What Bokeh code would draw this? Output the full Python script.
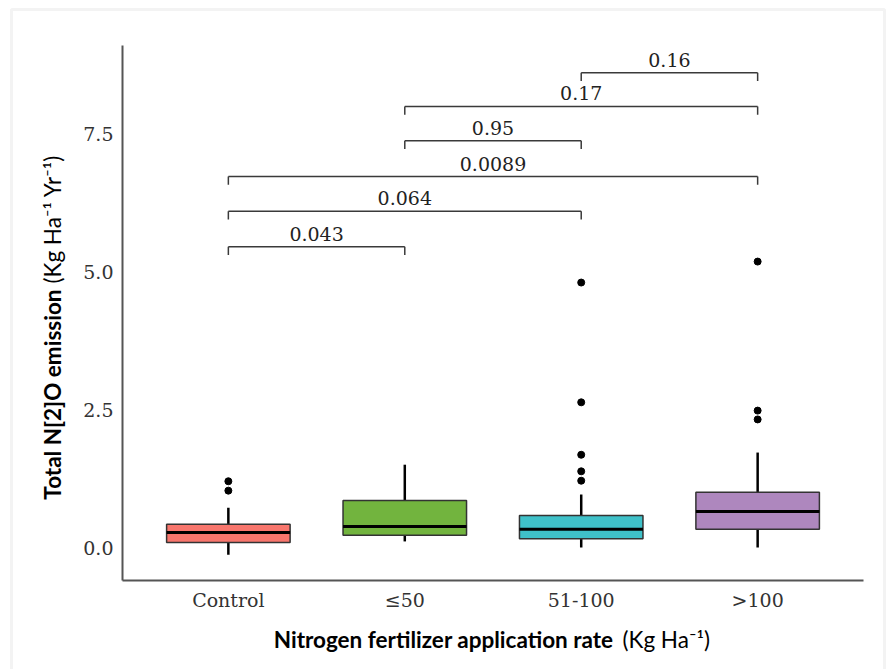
import numpy as np
from bokeh.plotting import figure
from bokeh.models import Range1d, FixedTicker, NumeralTickFormatter, Label, BoxAnnotation, LinearAxis
from bokeh.embed import file_html
from bokeh.resources import INLINE
from bokeh.core.properties import value

# ---------------- data ----------------
categories = ["Control", "≤50", "51-100", ">100"]
box_colors = ["#F8766D", "#72B43E", "#3FC1C9", "#AE87BE"]
q1 = [0.09, 0.22, 0.16, 0.33]
median = [0.27, 0.38, 0.33, 0.65]
q3 = [0.42, 0.85, 0.58, 1.00]
whisker_low = [-0.13, 0.11, 0.00, 0.00]
whisker_high = [0.72, 1.50, 0.96, 1.72]

outlier_groups = ["Control", "Control",
                  "51-100", "51-100", "51-100", "51-100", "51-100",
                  ">100", ">100", ">100"]
outlier_values = [1.03, 1.20,
                  1.21, 1.38, 1.68, 2.63, 4.80,
                  2.32, 2.48, 5.18]

bracket_left = ["Control", "Control", "Control", "≤50", "≤50", "51-100"]
bracket_right = ["≤50", "51-100", ">100", "51-100", ">100", ">100"]
bracket_y = [5.45, 6.09, 6.72, 7.37, 7.99, 8.60]
bracket_labels = ["0.043", "0.064", "0.0089", "0.95", "0.17", "0.16"]

y_ticks = [0.0, 2.5, 5.0, 7.5]

# ---------------- layout helpers (canvas pixel -> data) ----------------
PX_PER_X = 176.43
PX_PER_Y = 55.2
X_AT_LEFT = 0.4 - 122 / PX_PER_X
Y_AT_TOP = 547 / PX_PER_Y


def cx(px):
    return X_AT_LEFT + px / PX_PER_X


def cy(py):
    return Y_AT_TOP - py / PX_PER_Y


p = figure(width=888, height=669, x_range=Range1d(cx(0), cx(888)), y_range=Range1d(cy(669), cy(0)),
           output_backend="svg", toolbar_location=None, min_border=0,
           x_axis_location=None, y_axis_location=None)
p.outline_line_color = None
p.grid.visible = False
p.background_fill_color = "white"
p.border_fill_color = "white"

xpos = {c: i + 1 for i, c in enumerate(categories)}
cxs = [xpos[c] for c in categories]
half_w = 0.35

# light outer frame
p.add_layout(BoxAnnotation(left=cx(11), right=cx(884), top=cy(9), bottom=cy(720),
                           fill_color=None, line_color="#d6d6d6", line_width=3))

# whiskers
p.segment(x0=cxs, x1=cxs, y0=q3, y1=whisker_high, line_color="black", line_width=2.5)
p.segment(x0=cxs, x1=cxs, y0=whisker_low, y1=q1, line_color="black", line_width=2.5)
# boxes
p.vbar(x=cxs, width=2 * half_w, bottom=q1, top=q3, fill_color=box_colors,
       line_color="#333333", line_width=1.5)
# medians
p.segment(x0=[v - half_w for v in cxs], x1=[v + half_w for v in cxs], y0=median, y1=median,
          line_color="black", line_width=3)
# outliers
p.scatter(x=[xpos[g] for g in outlier_groups], y=outlier_values, size=7, color="black")

# significance brackets
tip = 0.15
bl = [xpos[c] for c in bracket_left]
br = [xpos[c] for c in bracket_right]
p.segment(x0=bl, x1=br, y0=bracket_y, y1=bracket_y, line_color="#3a3a3a", line_width=1.5)
p.segment(x0=bl, x1=bl, y0=bracket_y, y1=[y - tip for y in bracket_y], line_color="#3a3a3a", line_width=1.5)
p.segment(x0=br, x1=br, y0=bracket_y, y1=[y - tip for y in bracket_y], line_color="#3a3a3a", line_width=1.5)
mids = [(a + b) / 2 for a, b in zip(bl, br)]
p.text(x=mids, y=bracket_y, text=bracket_labels, text_align="center", text_baseline="bottom",
       y_offset=-6, text_font=value("DejaVu Serif"), text_font_size="19px", text_color="#222222")

# axes (fixed at the panel edges of the reference)
xaxis = LinearAxis(fixed_location=cy(580), bounds=(cx(122), cx(863)),
                   ticker=FixedTicker(ticks=cxs),
                   major_label_overrides={xpos[c]: c for c in categories})
yaxis = LinearAxis(fixed_location=cx(122), bounds=(cy(580), cy(45)),
                   ticker=FixedTicker(ticks=y_ticks), formatter=NumeralTickFormatter(format="0.0"))
for ax in (xaxis, yaxis):
    ax.axis_line_color = "#555555"
    ax.axis_line_width = 2
    ax.major_tick_line_color = None
    ax.minor_tick_line_color = None
    ax.major_tick_out = 0
    ax.major_tick_in = 0
    ax.minor_tick_out = 0
    ax.major_label_text_font = "DejaVu Serif"
    ax.major_label_text_font_size = "19px"
    ax.major_label_text_color = "#333333"
yaxis.major_label_standoff = 9
xaxis.major_label_standoff = 8
p.add_layout(xaxis, "below")
p.add_layout(yaxis, "left")

# axis titles (bold + regular parts)
tfont = "Lato"
tsize = "22.5px"
p.add_layout(Label(x=cx(613), y=cy(639), text="Nitrogen fertilizer application rate", text_align="right",
                   text_baseline="middle", text_font=tfont, text_font_style="bold",
                   text_font_size=tsize, text_color="black"))
p.add_layout(Label(x=cx(622), y=cy(639), text="(Kg Ha⁻¹)", text_align="left",
                   text_baseline="middle", text_font=tfont, text_font_size=tsize, text_color="black"))
p.add_layout(Label(x=cx(52), y=cy(289), text="Total N[2]O emission", text_align="right", angle=np.pi / 2,
                   text_baseline="middle", text_font=tfont, text_font_style="bold",
                   text_font_size=tsize, text_color="black"))
p.add_layout(Label(x=cx(52), y=cy(283), text="(Kg Ha⁻¹ Yr⁻¹)", text_align="left", angle=np.pi / 2,
                   text_baseline="middle", text_font=tfont, text_font_size=tsize, text_color="black"))

open("out.html", "w").write(file_html(p, INLINE))
